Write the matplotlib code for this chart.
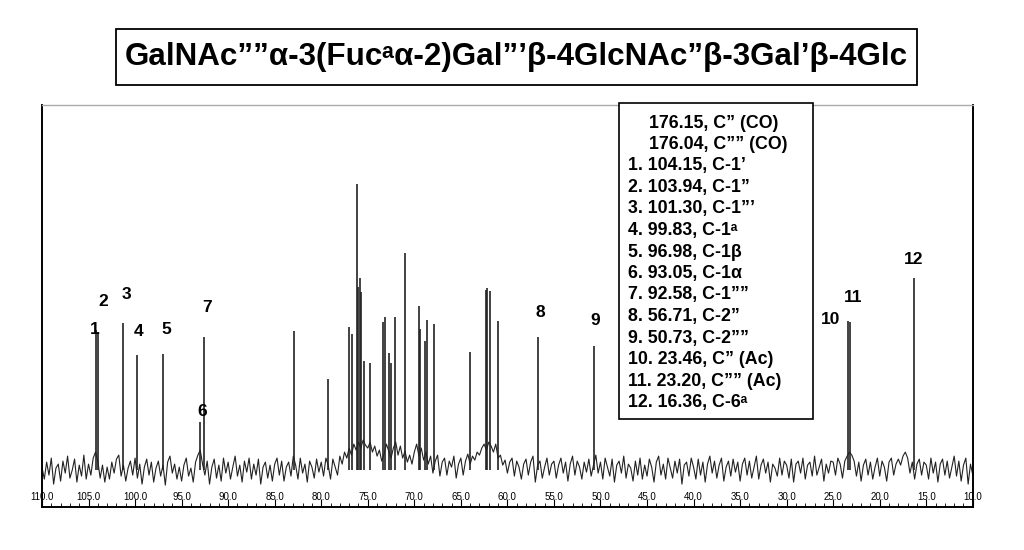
import matplotlib.pyplot as plt
from matplotlib.patches import Rectangle
from matplotlib.ticker import MultipleLocator, FormatStrFormatter

# Peak list: chemical shift (ppm) and height above baseline (arbitrary units)
peak_ppm = [104.15, 103.94, 101.30, 99.83, 96.98, 93.05, 92.58,
            82.93, 79.3, 77.0, 76.7, 76.2, 76.05, 75.85, 75.7, 75.4, 74.8,
            73.4, 73.15, 72.7, 72.5, 72.1, 71.0, 69.5, 69.4, 68.9, 68.65, 67.9,
            64.0, 62.3, 62.2, 61.9, 61.0,
            56.71, 50.73, 23.46, 23.20, 16.36]
peak_height = [140, 138, 147, 115, 116, 48, 133,
               139, 91, 143, 136, 286, 183, 192, 178, 109, 107,
               148, 153, 117, 107, 153, 217, 164, 141, 129, 150, 146,
               118, 180, 182, 179, 149,
               133, 124, 149, 148, 192]

# baseline noise read every 0.25 ppm from 110 down to 10
noise_start = 110.0
noise_step = 0.25
noise = [3, -9, 8, -5, 12, -14, 2, 6, -11, 9, -3, 14, -8, 0, 11, -12, 5, -6, 15, -9,
         6, -5, 12, 18, 9, -8, 5, -12, 3, -9, 8, -3, 11, 15, -6, 5, -11, 2, 9, -5,
         12, -8, 6, -14, 3, 11, -5, 8, -12, 2, 9, -6, 5, -15, 8, 14, -3, 6, -9, 3,
         -11, 5, 12, -6, 2, -12, 8, 15, 20, 6, -5, 9, -14, 3, 11, -8, 5, -11, 12, -3,
         8, -9, 3, 14, -6, 5, -12, 9, -2, 12, -9, 6, -5, 11, -14, 3, 8, -8, 5, -11,
         6, 12, -5, 9, -11, 3, 8, -6, 14, 5, -9, 12, -3, 6, -12, 9, 3, -8, 11, -2,
         8, -6, 12, 5, -9, 11, 3, -5, 14, 6, 18, 12, 22, 15, 26, 20, 28, 22, 30, 25,
         22, 28, 18, 24, 14, 20, 9, 16, 26, 19, 12, 22, 28, 15, 24, 12, 19, 8, 15, 6,
         18, 26, 14, 22, 10, 18, 6, 14, -3, 9, 15, -6, 8, 12, -5, 9, 3, 14, -8, 6,
         12, -5, 9, 16, 6, 14, 10, 18, 15, 22, 26, 20, 28, 24, 18, 26, 12, 15, 5, 10,
         -3, 8, 12, -6, 9, 3, -9, 6, 11, -5, 8, 14, -12, 5, 9, -8, 3, 12, -5, 6,
         9, -8, 5, 12, -3, 8, -11, 6, 14, -5, 9, 3, -9, 8, -2, 11, -6, 5, 15, -3,
         8, -9, 12, 3, -6, 11, -12, 5, 9, -3, 14, -8, 6, 2, -11, 9, -5, 12, -9, 5,
         -6, 11, 3, -12, 8, 14, -5, 6, -9, 12, 2, -8, 9, -3, 11, -14, 5, 8, -6, 12,
         3, -9, 11, -5, 8, -12, 6, 14, -3, 9, -8, 5, 12, -11, 3, 9, -6, 11, -2, 8,
         -11, 6, 12, -5, 9, -8, 3, 14, -9, 5, 11, -3, 8, -12, 6, 2, -6, 12, -5, 9,
         5, -8, 11, -12, 6, 9, -3, 12, -9, 5, 8, -6, 14, -5, 3, 11, -11, 6, -3, 9,
         8, -5, 12, 6, -8, 9, 14, 18, 15, 9, -6, 8, -11, 5, 11, -5, 8, -9, 3, 12,
         -6, 9, 3, -11, 8, 12, -5, 6, 11, 5, 14, 18, 12, -3, 8, -9, 6, 11, -5, 8,
         5, -9, 12, -3, 8, -12, 6, 11, -5, 9, -8, 3, 14, -6, 9, -11, 5, 12, -14, 6,
         -5]
noise_ppm = [noise_start - i * noise_step for i in range(len(noise))]

# numbered peak labels and where they sit
label_text = ['1', '2', '3', '4', '5', '6', '7', '8', '9', '10', '11', '12']
label_x = [104.3, 103.4, 100.9, 99.6, 96.6, 92.8, 92.3, 56.5, 50.6, 25.3, 22.9, 16.4]
label_y = [141, 169, 176, 139, 141, 59, 163, 158, 150, 151, 173, 211]

assign_lines = ['176.15, C\u201d (CO)',
                '176.04, C\u201d\u201d (CO)',
                '1. 104.15, C-1\u2019',
                '2. 103.94, C-1\u201d',
                '3. 101.30, C-1\u201d\u2019',
                '4. 99.83, C-1\u1d43',
                '5. 96.98, C-1\u03b2',
                '6. 93.05, C-1\u03b1',
                '7. 92.58, C-1\u201d\u201d',
                '8. 56.71, C-2\u201d',
                '9. 50.73, C-2\u201d\u201d',
                '10. 23.46, C\u201d (Ac)',
                '11. 23.20, C\u201d\u201d (Ac)',
                '12. 16.36, C-6\u1d43']

title = 'GalNAc\u201d\u201d\u03b1-3(Fuc\u1d43\u03b1-2)Gal\u201d\u2019\u03b2-4GlcNAc\u201d\u03b2-3Gal\u2019\u03b2-4Glc'

plt.rcParams['font.family'] = ['Liberation Sans', 'DejaVu Sans']

fig = plt.figure(figsize=(10.24, 5.5), dpi=100)
ax = fig.add_axes([0.041, 0.078, 0.909, 0.731])

ax.plot(noise_ppm, noise, color='#222222', lw=0.8)
ax.vlines(peak_ppm, 0, peak_height, color='#222222', lw=1.2)

for t, x, y in zip(label_text, label_x, label_y):
    ax.text(x, y, t, ha='center', va='center', fontsize=12.5, fontweight='bold')

ax.set_xlim(110, 10)
ax.set_ylim(-37, 365)
ax.set_yticks([])
ax.xaxis.set_major_locator(MultipleLocator(5))
ax.xaxis.set_minor_locator(MultipleLocator(1))
ax.xaxis.set_major_formatter(FormatStrFormatter('%.1f'))
ax.tick_params(axis='x', which='major', direction='in', length=6, width=0.8,
               labelsize=7, pad=-11)
ax.tick_params(axis='x', which='minor', direction='in', length=3, width=0.6)
for s in ax.spines.values():
    s.set_linewidth(1.4)
ax.spines['top'].set_color('#aaaaaa')
ax.spines['top'].set_linewidth(1.0)

# title box
fig.patches.append(Rectangle((116 / 1024, 1 - 85 / 550), 801 / 1024, 56 / 550,
                             transform=fig.transFigure, fill=False, lw=1.3,
                             edgecolor='black'))
fig.text(516 / 1024, 1 - 57 / 550, title, ha='center', va='center',
         fontsize=22.6, fontweight='bold')

# assignment box
fig.patches.append(Rectangle((619 / 1024, 1 - 419 / 550), 194 / 1024, 316 / 550,
                             transform=fig.transFigure, fill=True, facecolor='white',
                             lw=1.2, edgecolor='black', zorder=5))
for i, line in enumerate(assign_lines):
    xpos = 649 if i < 2 else 628
    fig.text(xpos / 1024, 1 - (123 + i * 21.5) / 550, line, ha='left', va='center',
             fontsize=12.8, fontweight='bold', zorder=6)

fig.savefig('out.png', dpi=100)
